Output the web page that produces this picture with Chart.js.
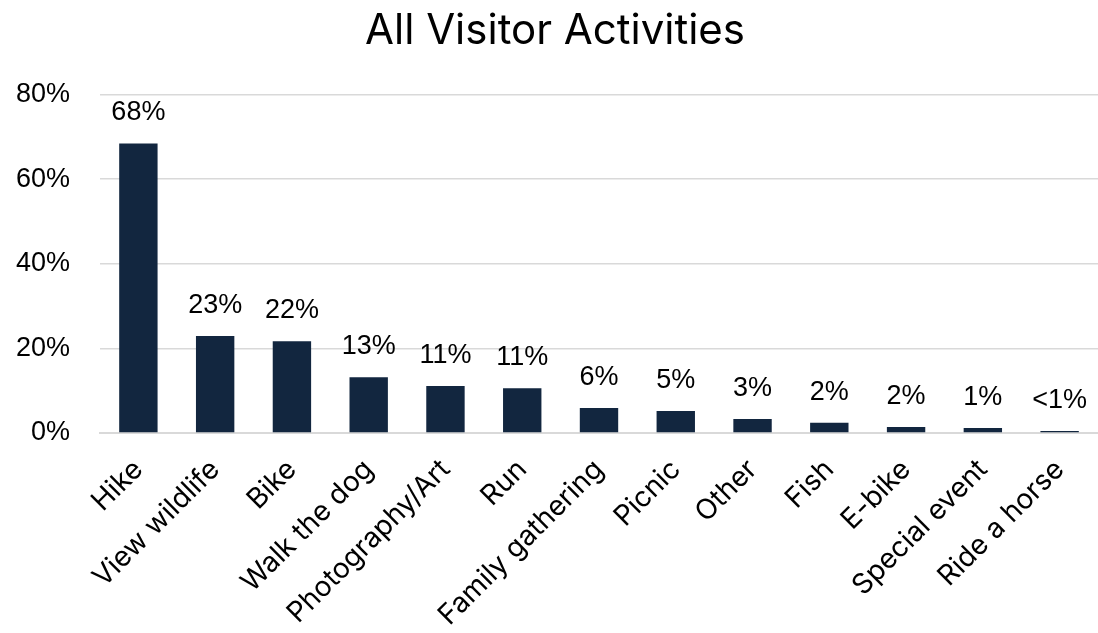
<!DOCTYPE html>
<html lang="en">
<head>
    <meta charset="UTF-8">
    <title>All Visitor Activities</title>
    <script src="https://cdn.jsdelivr.net/npm/chart.js"></script>
    <style>
        body {
            margin: 0;
            padding: 0;
            background: #ffffff;
        }
        #chartBox {
            width: 1098px;
            height: 633px;
        }
    </style>
</head>
<body>
    <div id="chartBox">
        <canvas id="activityChart" width="1098" height="633"></canvas>
    </div>

    <script>
        const activities = ['Hike', 'View wildlife', 'Bike', 'Walk the dog', 'Photography/Art', 'Run',
            'Family gathering', 'Picnic', 'Other', 'Fish', 'E-bike', 'Special event', 'Ride a horse'];
        const shares = [68.4, 22.9, 21.7, 13.2, 11.1, 10.6, 5.9, 5.2, 3.3, 2.4, 1.4, 1.2, 0.5];
        const shareLabels = ['68%', '23%', '22%', '13%', '11%', '11%', '6%', '5%', '3%', '2%', '2%', '1%', '<1%'];
        const yTicks = [0, 20, 40, 60, 80];

        // small inline plugin to write the value above each bar
        const barValueLabels = {
            id: 'barValueLabels',
            afterDatasetsDraw(chart) {
                const ctx = chart.ctx;
                const meta = chart.getDatasetMeta(0);
                ctx.save();
                ctx.font = '27px "Liberation Sans", Arial, sans-serif';
                ctx.fillStyle = '#000000';
                ctx.textAlign = 'center';
                ctx.textBaseline = 'bottom';
                meta.data.forEach(function (bar, i) {
                    ctx.fillText(shareLabels[i], bar.x, bar.y - 17);
                });
                ctx.restore();
            }
        };

        const ctx = document.getElementById('activityChart').getContext('2d');
        const activityChart = new Chart(ctx, {
            type: 'bar',
            data: {
                labels: activities,
                datasets: [{
                    label: 'All Visitor Activities',
                    data: shares,
                    backgroundColor: '#12263f',
                    categoryPercentage: 1.0,
                    barPercentage: 0.5
                }]
            },
            options: {
                responsive: false,
                animation: false,
                layout: {
                    padding: { left: 12, right: 0, top: 6, bottom: 0 }
                },
                plugins: {
                    legend: { display: false },
                    tooltip: { enabled: false },
                    title: {
                        display: true,
                        text: 'All Visitor Activities',
                        color: '#000000',
                        font: { family: 'Inter, Lato, sans-serif', size: 42, weight: 'normal' },
                        padding: { top: 0, bottom: 38 }
                    }
                },
                scales: {
                    x: {
                        afterFit(axis) {
                            axis.height = 200;
                        },
                        grid: { display: false },
                        border: { color: '#d9d9d9', width: 2 },
                        ticks: {
                            color: '#000000',
                            font: { family: 'Inter, Lato, sans-serif', size: 28 },
                            minRotation: 45,
                            maxRotation: 45,
                            padding: 12
                        }
                    },
                    y: {
                        min: 0,
                        max: 80,
                        afterBuildTicks(axis) {
                            axis.ticks = yTicks.map(v => ({ value: v }));
                        },
                        afterFit(axis) {
                            axis.width = 88;
                        },
                        grid: { color: '#d9d9d9', lineWidth: 1.5, drawTicks: false },
                        border: { display: false },
                        ticks: {
                            color: '#000000',
                            font: { family: '"Liberation Sans", Arial, sans-serif', size: 27 },
                            padding: 30,
                            callback: v => v + '%'
                        }
                    }
                }
            },
            plugins: [barValueLabels]
        });
    </script>
</body>
</html>
